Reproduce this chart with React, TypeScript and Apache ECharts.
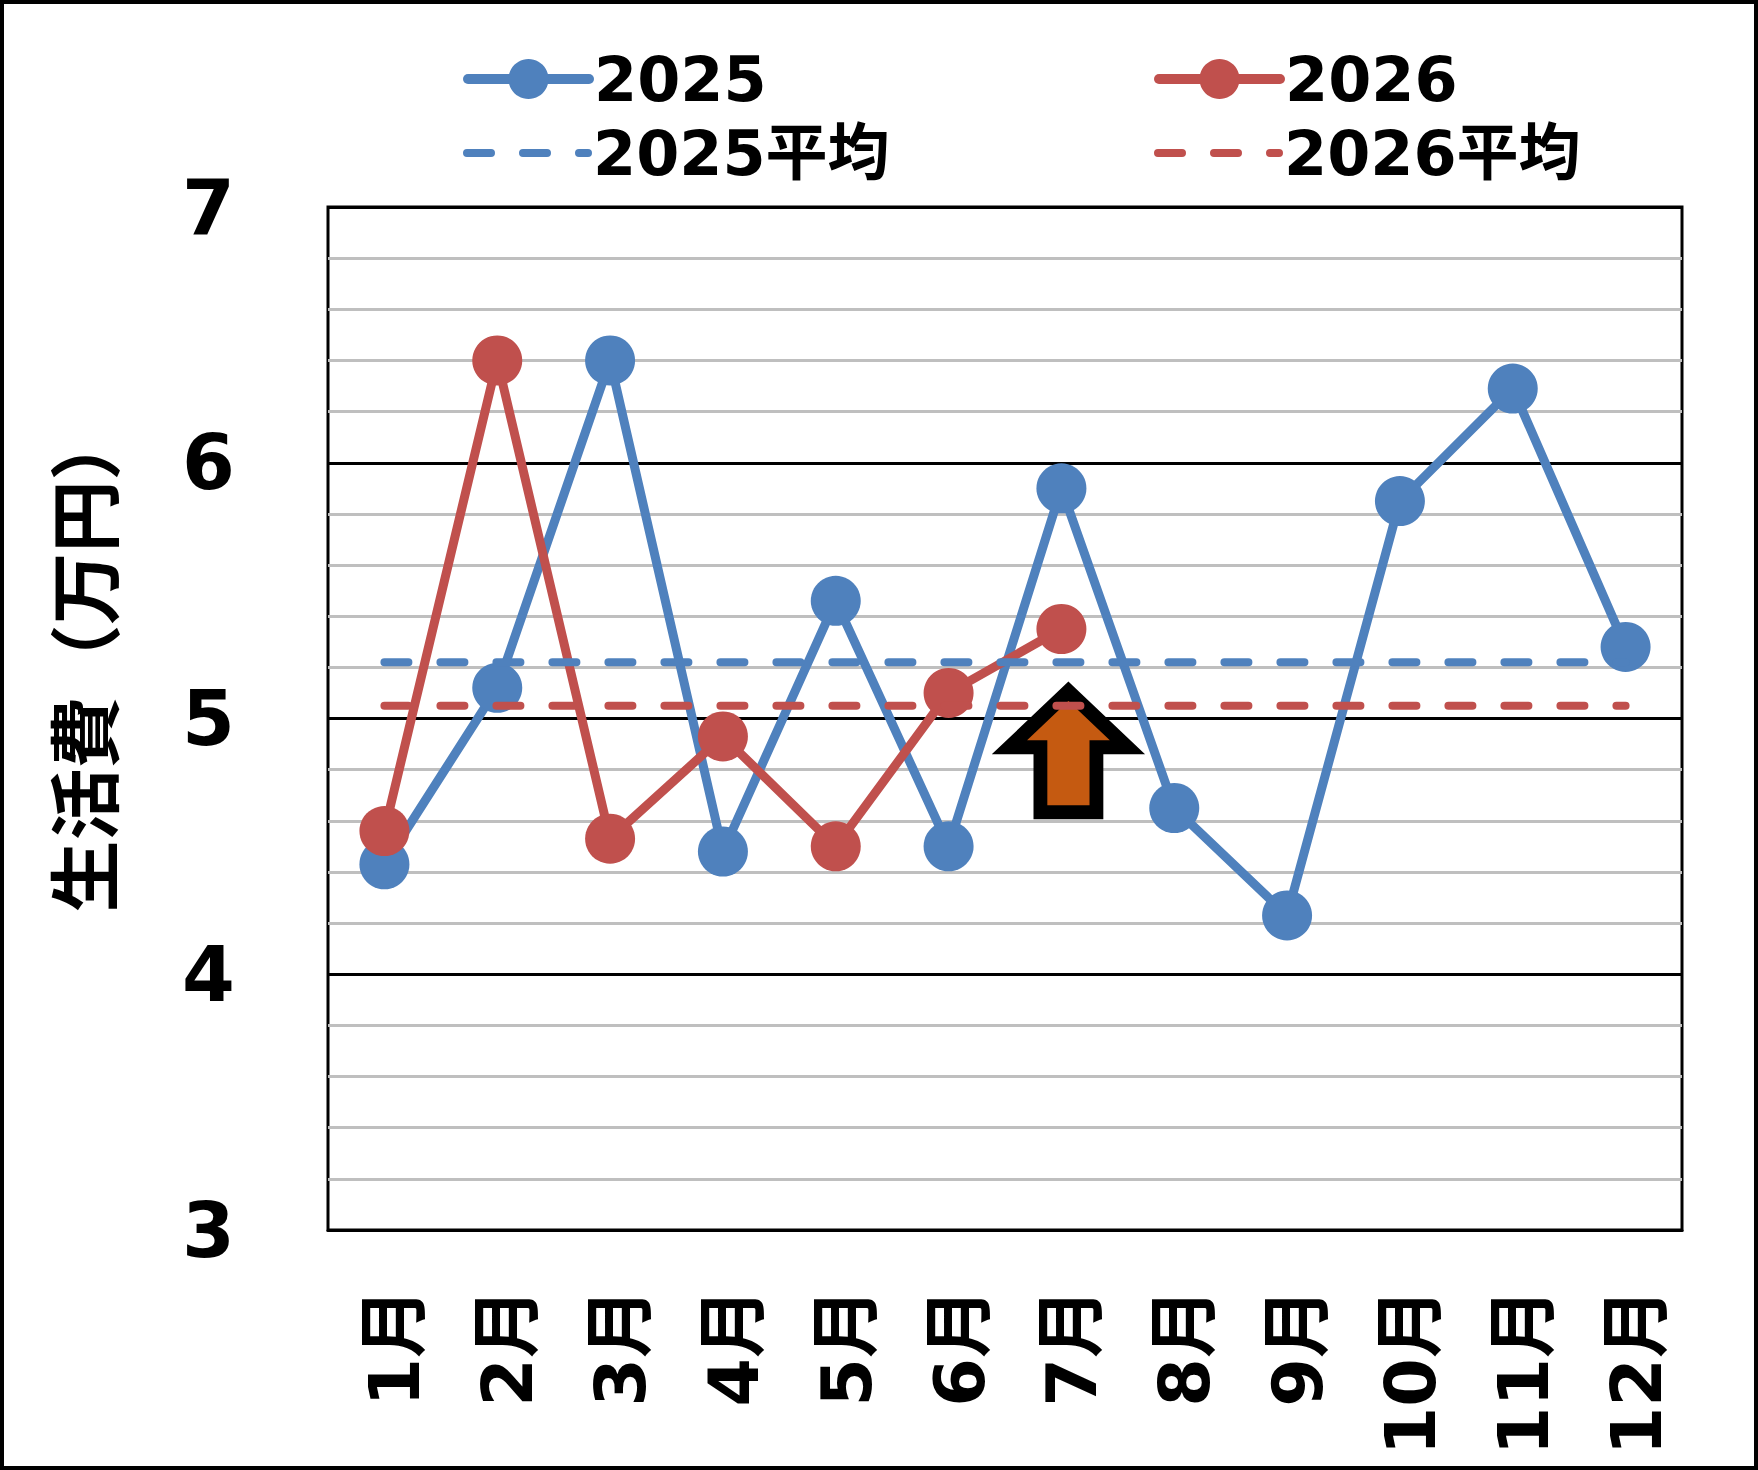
import React, { useEffect, useRef } from "react";
import * as echarts from "echarts";

const months = ["1月", "2月", "3月", "4月", "5月", "6月", "7月", "8月", "9月", "10月", "11月", "12月"];
const values2025 = [4.43, 5.12, 6.4, 4.48, 5.46, 4.5, 5.9, 4.65, 4.23, 5.85, 6.29, 5.28];
const values2026 = [4.56, 6.4, 4.53, 4.93, 4.5, 5.1, 5.35];
const avg2025 = 5.22;
const avg2026 = 5.05;
const yMin = 3;
const yMax = 7;
const yInterval = 1;
const arrowMonth = "7月";
const arrowValue = 4.87;

const FONT = "'DejaVu Sans', 'Noto Sans CJK JP', sans-serif";
const CJK = "'Noto Sans CJK JP', sans-serif";
const BLUE = "#4f81bd";
const RED = "#c0504d";
const ORANGE = "#c55a11";

export default function App() {
  const ref = useRef<HTMLDivElement>(null);
  useEffect(() => {
    document.body.style.margin = "0";
    const chart = echarts.init(ref.current!, null, { renderer: "svg" });
    const arrowPath = "path://M59,0 L118,56 L87,56 L87,121 L31,121 L31,56 L0,56 Z";
    const legendBase: any = {
      orient: "vertical",
      itemWidth: 121,
      itemHeight: 50,
      itemGap: 26,
      selectedMode: false,
      textStyle: { fontFamily: FONT, fontWeight: "bold", fontSize: 62, color: "#000" },
    };
    const solidLegendLine = { width: 10, cap: "round" };
    const dashLegendLine = { width: 8, type: [24, 32], cap: "round" };
    chart.setOption({
      animation: false,
      backgroundColor: "#fff",
      textStyle: { fontFamily: FONT, fontWeight: "bold" },
      legend: [
        { ...legendBase, data: ["2025"], left: 458, top: 43, lineStyle: solidLegendLine },
        {
          ...legendBase,
          data: [{ name: "2025平均", itemStyle: { opacity: 0 } }],
          left: 458,
          top: 117,
          lineStyle: dashLegendLine,
        },
        { ...legendBase, data: ["2026"], left: 1149, top: 43, lineStyle: solidLegendLine },
        {
          ...legendBase,
          data: [{ name: "2026平均", itemStyle: { opacity: 0 } }],
          left: 1149,
          top: 117,
          lineStyle: dashLegendLine,
        },
      ],
      grid: {
        left: 328,
        right: 76,
        top: 207,
        bottom: 240,
        show: true,
        borderColor: "#000",
        borderWidth: 3,
        backgroundColor: "transparent",
      },
      xAxis: {
        type: "category",
        data: months,
        boundaryGap: true,
        axisLine: { show: true, lineStyle: { color: "#000", width: 3 } },
        axisTick: { show: false },
        splitLine: { show: false },
        axisLabel: {
          rotate: 90,
          margin: 58,
          fontSize: 70,
          color: "#000",
          fontFamily: FONT,
          fontWeight: "bold",
          verticalAlign: "top",
          lineHeight: 22,
        },
      },
      yAxis: {
        type: "value",
        min: yMin,
        max: yMax,
        interval: yInterval,
        name: "生活費（万円）",
        nameLocation: "middle",
        nameRotate: 90,
        nameGap: 212,
        nameTextStyle: {
          fontSize: 72,
          fontFamily: CJK,
          fontWeight: "bold",
          color: "#000",
          padding: [0, 0, 0, 116],
        },
        axisLine: { show: false },
        axisTick: { show: false },
        axisLabel: { fontSize: 76, margin: 93, color: "#000", fontFamily: FONT, fontWeight: "bold" },
        splitLine: { show: true, lineStyle: { color: "#000", width: 3 } },
        minorTick: { show: false, splitNumber: 5 },
        minorSplitLine: { show: true, lineStyle: { color: "#bfbfbf", width: 3 } },
      },
      series: [
        {
          name: "2025",
          type: "line",
          data: values2025,
          symbol: "circle",
          symbolSize: 50,
          lineStyle: { color: BLUE, width: 9 },
          itemStyle: { color: BLUE },
          z: 2,
        },
        {
          name: "2026",
          type: "line",
          data: values2026,
          symbol: "circle",
          symbolSize: 50,
          lineStyle: { color: RED, width: 9 },
          itemStyle: { color: RED },
          z: 3,
        },
        {
          name: "2025平均",
          type: "line",
          data: months.map(() => avg2025),
          symbol: "none",
          lineStyle: { color: BLUE, width: 8, type: [24, 32], cap: "round" },
          itemStyle: { color: BLUE },
          z: 4,
        },
        {
          name: "2026平均",
          type: "line",
          data: months.map(() => avg2026),
          symbol: "none",
          lineStyle: { color: RED, width: 8, type: [24, 32], cap: "round" },
          itemStyle: { color: RED },
          z: 5,
          markPoint: {
            silent: true,
            symbol: arrowPath,
            symbolSize: [118, 121],
            symbolOffset: [7, 0],
            itemStyle: { color: ORANGE, borderColor: "#000", borderWidth: 14 },
            label: { show: false },
            data: [{ coord: [arrowMonth, arrowValue] }],
          },
        },
      ],
      graphic: [
        {
          type: "rect",
          silent: true,
          z: 100,
          shape: { x: 2, y: 2, width: 1754, height: 1466 },
          style: { fill: "none", stroke: "#000", lineWidth: 4 },
        },
      ],
    });
    return () => chart.dispose();
  }, []);
  return <div ref={ref} style={{ width: 1758, height: 1470 }} />;
}
